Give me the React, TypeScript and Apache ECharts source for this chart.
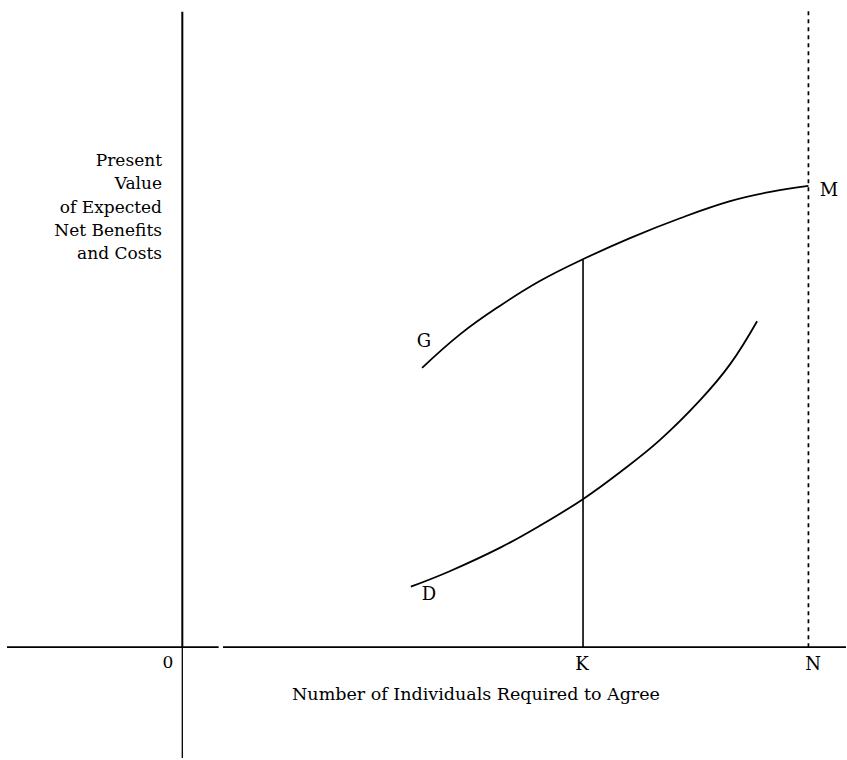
import React, { useEffect, useRef } from "react";
import * as echarts from "echarts";

// Data in abstract units: origin 0, N = 100 on x; M = 100 on y
const xRange = [-28, 106];
const yRange = [-24, 138];

const curveG: [number, number][] = [
  [38.3, 60.5], [44.4, 67.8], [50.7, 73.9], [57.1, 79.3], [63.8, 83.9],
  [71.5, 88.6], [79.5, 92.9], [87.5, 96.6], [93.9, 98.6], [100, 99.9],
];
const curveD: [number, number][] = [
  [36.5, 13.1], [42.8, 16.5], [50.7, 21.5], [57.1, 26.3], [63.8, 31.9],
  [69.9, 37.9], [76.3, 44.9], [82.7, 53.5], [87.5, 61.3], [91.8, 70.6],
];
const kLine: [number, number][] = [[64, 0], [64, 83.9]];
const nLine: [number, number][] = [[100, 0], [100, 138]];
const hAxisLeft: [number, number][] = [[-28, 0], [5.8, 0]];
const hAxisRight: [number, number][] = [[6.5, 0], [106, 0]];
const vAxisUpper: [number, number][] = [[0, 0], [0, 137.6]];
const vAxisLower: [number, number][] = [[0, 0], [0, -24]];

const yLabelLines = ["Present", "Value", "of Expected", "Net Benefits", "and Costs"];
const xLabel = "Number of Individuals Required to Agree";

const FONT = "DejaVu Serif";

export default function App() {
  const ref = useRef<HTMLDivElement>(null);
  useEffect(() => {
    if (!ref.current) return;
    const chart = echarts.init(ref.current, undefined, { renderer: "svg" });
    const line = (data: [number, number][], width: number, type: any = "solid", smooth: any = false) => ({
      type: "line",
      data,
      symbol: "none",
      smooth,
      silent: true,
      clip: false,
      lineStyle: { color: "#000", width, type },
    });
    const txt = (text: string, x: number, y: number, size: number, align = "center") => ({
      type: "text",
      x,
      y,
      silent: true,
      style: {
        text,
        fill: "#000",
        font: `${size}px "${FONT}"`,
        align,
        verticalAlign: "middle",
      },
    });
    chart.setOption({
      animation: false,
      backgroundColor: "#fff",
      grid: { left: 7, right: 1, top: 10, bottom: 2 },
      xAxis: { type: "value", min: xRange[0], max: xRange[1], show: false },
      yAxis: { type: "value", min: yRange[0], max: yRange[1], show: false },
      series: [
        line(hAxisLeft, 1.8),
        line(hAxisRight, 1.8),
        line(vAxisUpper, 2),
        line(vAxisLower, 1.3),
        line(nLine, 1.7, [4, 4]),
        line(kLine, 1.6),
        line(curveG, 1.8, "solid", 0.4),
        line(curveD, 1.8, "solid", 0.4),
      ],
      graphic: [
        ...yLabelLines.map((t, i) => txt(t, 162, 160 + i * 23.3, 17, "right")),
        txt(xLabel, 476, 694, 17.5),
        txt("G", 424, 340, 18),
        txt("D", 429, 593, 18),
        txt("M", 829, 189, 18),
        txt("K", 582, 663, 18),
        txt("N", 813, 663, 18),
        txt("0", 168, 662, 17),
      ],
    });
    return () => chart.dispose();
  }, []);
  return (
    <div
      ref={ref}
      style={{ position: "fixed", left: 0, top: 0, width: 847, height: 760, background: "#fff" }}
    />
  );
}
